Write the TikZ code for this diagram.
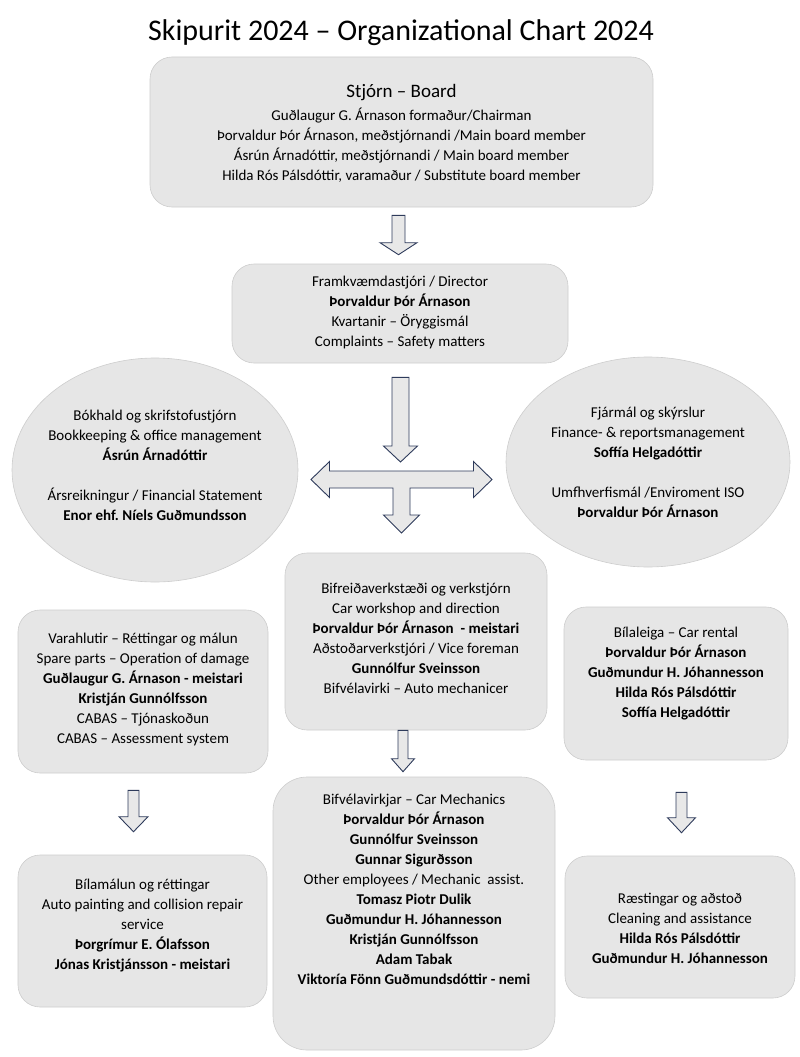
\documentclass[tikz,border=0pt]{standalone}
\usepackage{fontspec}
\setmainfont{Carlito}
\usepackage{tikz}
\usetikzlibrary{shapes.geometric, positioning, calc}
\frenchspacing
\definecolor{boxfill}{HTML}{E6E6E6}
\definecolor{boxline}{HTML}{CDCDCD}
\definecolor{arrowline}{HTML}{2E3B5B}
\definecolor{arrowfill}{HTML}{E8E8E8}
\tikzstyle{orgbox} = [rectangle, rounded corners=22pt, draw=boxline, fill=boxfill, line width=0.6pt]
\tikzstyle{orgoval} = [ellipse, draw=boxline, fill=boxfill, line width=0.6pt]
\tikzstyle{txt} = [align=center, inner sep=0pt, font=\fontsize{15}{20}\selectfont]
\tikzstyle{crossarrow} = [draw=arrowline, fill=arrowfill, line width=0.9pt, line join=miter]
\tikzset{hollowdown/.style n args={3}{draw=arrowline, fill=arrowfill, line width=0.9pt, line join=miter,
  to path={let \p1=(\tikztostart), \p2=(\tikztotarget) in
    (\x1-#1pt,\y1) -- (\x1+#1pt,\y1) -- (\x1+#1pt,\y2+#3pt) -- (\x1+#2pt,\y2+#3pt)
    -- (\x1,\y2) -- (\x1-#2pt,\y2+#3pt) -- (\x1-#1pt,\y2+#3pt) -- cycle}}}

\begin{document}
\begin{tikzpicture}[x=1pt, y=-1pt]
\useasboundingbox (0,0) rectangle (800,1057);

\node (title) [txt, font=\fontsize{30}{36}\selectfont] at (401,33) {Skipurit 2024 – Organizational Chart 2024};

% board
\node (board) [orgbox, minimum width=503pt, minimum height=150pt] at (401.5,132) {};
\node (board_h) [txt, font=\fontsize{19}{23}\selectfont] at (401.5,93) {Stjórn – Board};
\node (board_t) [txt] at (401.5,145) {Guðlaugur G. Árnason formaður/Chairman\\
  Þorvaldur Þór Árnason, meðstjórnandi /Main board member\\
  Ásrún Árnadóttir, meðstjórnandi / Main board member\\
  Hilda Rós Pálsdóttir, varamaður / Substitute board member};

% director
\node (dir) [orgbox, minimum width=336pt, minimum height=99pt] at (400,313.5) {};
\node (dir_t) [txt] at (400,312.5) {Framkvæmdastjóri / Director\\
  \textbf{Þorvaldur Þór Árnason}\\
  Kvartanir – Öryggismál\\
  Complaints – Safety matters};

% ovals
\node (bokhald) [orgoval, minimum width=286pt, minimum height=224pt] at (155,470) {};
\node (bokhald_t) [txt] at (155,465) {Bókhald og skrifstofustjórn\\
  Bookkeeping \& office management\\
  \textbf{Ásrún Árnadóttir}\\[20pt]
  Ársreikningur / Financial Statement\\
  \textbf{Enor ehf. Níels Guðmundsson}};

\node (fjarmal) [orgoval, minimum width=284pt, minimum height=210pt] at (648,462) {};
\node (fjarmal_t) [txt] at (648,462.5) {Fjármál og skýrslur\\
  Finance- \& reportsmanagement\\
  \textbf{Soffía Helgadóttir}\\[20pt]
  Umfhverfismál /Enviroment ISO\\
  \textbf{Þorvaldur Þór Árnason}};

% workshop row
\node (verkst) [orgbox, minimum width=262pt, minimum height=177pt] at (416,641.5) {};
\node (verkst_t) [txt] at (416,638.5) {Bifreiðaverkstæði og verkstjórn\\
  Car workshop and direction\\
  \textbf{Þorvaldur Þór Árnason\ \ - meistari}\\
  Aðstoðarverkstjóri / Vice foreman\\
  \textbf{Gunnólfur Sveinsson}\\
  Bifvélavirki – Auto mechanicer};

\node (varahl) [orgbox, minimum width=250pt, minimum height=163pt] at (143,691.5) {};
\node (varahl_t) [txt] at (143,689) {Varahlutir – Réttingar og málun\\
  Spare parts – Operation of damage\\
  \textbf{Guðlaugur G. Árnason - meistari}\\
  \textbf{Kristján Gunnólfsson}\\
  CABAS – Tjónaskoðun\\
  CABAS – Assessment system};

\node (bilal) [orgbox, minimum width=224pt, minimum height=153pt] at (676,683.5) {};
\node (bilal_t) [txt] at (676,674) {Bílaleiga – Car rental\\
  \textbf{Þorvaldur Þór Árnason}\\
  \textbf{Guðmundur H. Jóhannesson}\\
  \textbf{Hilda Rós Pálsdóttir}\\
  \textbf{Soffía Helgadóttir}};

% bottom row
\node (bifvel) [orgbox, rounded corners=34pt, minimum width=282pt, minimum height=273pt] at (414,913.5) {};
\node (bifvel_t) [txt] at (414,889) {Bifvélavirkjar – Car Mechanics\\
  \textbf{Þorvaldur Þór Árnason}\\
  \textbf{Gunnólfur Sveinsson}\\
  \textbf{Gunnar Sigurðsson}\\
  Other employees / Mechanic\ \ assist.\\
  \textbf{Tomasz Piotr Dulik}\\
  \textbf{Guðmundur H. Jóhannesson}\\
  \textbf{Kristján Gunnólfsson}\\
  \textbf{Adam Tabak}\\
  \textbf{Viktoría Fönn Guðmundsdóttir - nemi}};

\node (bilamal) [orgbox, minimum width=249pt, minimum height=152pt] at (142.5,931) {};
\node (bilamal_t) [txt] at (142.5,926) {Bílamálun og réttingar\\
  Auto painting and collision repair\\
  service\\
  \textbf{Þorgrímur E. Ólafsson}\\
  \textbf{Jónas Kristjánsson - meistari}};

\node (raest) [orgbox, minimum width=230pt, minimum height=142pt] at (680,927) {};
\node (raest_t) [txt] at (680,928) {Ræstingar og aðstoð\\
  Cleaning and assistance\\
  \textbf{Hilda Rós Pálsdóttir}\\
  \textbf{Guðmundur H. Jóhannesson}};

% arrows
\coordinate (a1s) at ($(board.south)+(-3,8)$);
\coordinate (a1e) at ($(dir.north)+(-1.5,-9)$);
\draw [hollowdown={6.5}{18.5}{12}] (a1s) to (a1e);

\coordinate (hub) at (401.5,479.5);
\coordinate (a2s) at ($(dir.south)+(0.5,14)$);
\coordinate (a2e) at ($(hub)+(-1,-17.5)$);
\draw [hollowdown={8.5}{17}{16}] (a2s) to (a2e);
\draw [crossarrow, shift={(hub)}] (-72,-8.5) -- (72,-8.5) -- (72,-18) -- (90.5,0) -- (72,18) -- (72,8.5)
  -- (8.5,8.5) -- (8.5,35.5) -- (18,35.5) -- (0,53.5) -- (-18,35.5) -- (-8.5,35.5) -- (-8.5,8.5)
  -- (-72,8.5) -- (-72,18) -- (-90.5,0) -- (-72,-18) -- cycle;

\coordinate (a3s) at ($(verkst.south)+(-13,0)$);
\coordinate (a3e) at ($(bifvel.north)+(-11,-5)$);
\draw [hollowdown={5}{11.5}{13}] (a3s) to (a3e);

\coordinate (a4s) at ($(varahl.south)+(-9.5,17)$);
\coordinate (a4e) at ($(bilamal.north)+(-9,-23)$);
\draw [hollowdown={5.5}{14.5}{15}] (a4s) to (a4e);

\coordinate (a5s) at ($(bilal.south)+(5.5,32)$);
\coordinate (a5e) at ($(raest.north)+(1.5,-23)$);
\draw [hollowdown={5.5}{14}{15}] (a5s) to (a5e);
\end{tikzpicture}
\end{document}
